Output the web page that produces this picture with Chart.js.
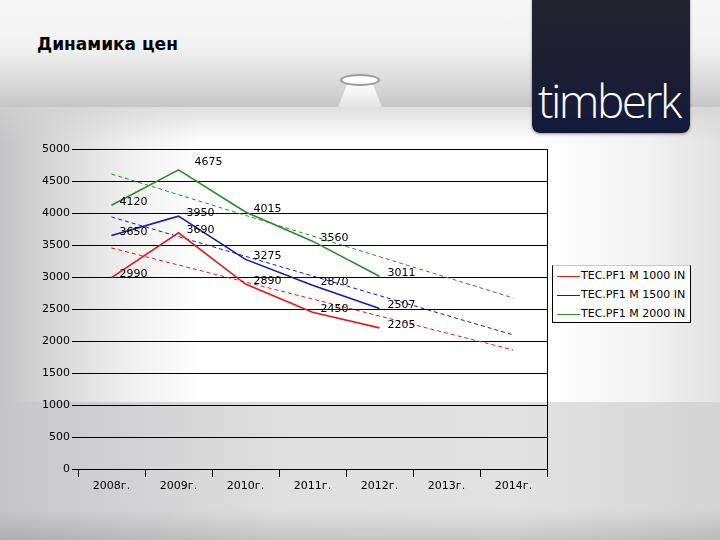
<!DOCTYPE html>
<html lang="ru">
<head>
<meta charset="utf-8">
<title>Динамика цен</title>
<script src="https://cdn.jsdelivr.net/npm/chart.js@4.4.1/dist/chart.umd.min.js"></script>
<style>
  html, body { margin: 0; padding: 0; }
  body {
    width: 720px; height: 540px; position: relative; overflow: hidden;
    background: #d8d8d8; font-family: "DejaVu Sans", sans-serif;
  }
  .bg-top {
    position: absolute; left: 0; top: 0; width: 720px; height: 107px;
    background: linear-gradient(to bottom, #f8f8f8 0%, #f1f1f1 45%, #d6d6d6 82%, #c6c6c6 100%);
  }
  .bg-mid {
    position: absolute; left: 0; top: 107px; width: 720px; height: 295px;
    background:
      linear-gradient(to bottom, rgba(210,210,210,0.7) 0%, rgba(255,255,255,0) 12%),
      linear-gradient(to right, #c4c4c6 0%, #d6d6d6 7%, #f0f0f0 18%, #ffffff 28%, #ffffff 76%, #f2f2f2 90%, #e2e2e2 100%);
  }
  .bg-bot {
    position: absolute; left: 0; top: 402px; width: 720px; height: 138px;
    background:
      linear-gradient(to bottom, rgba(0,0,0,0) 0%, rgba(0,0,0,0) 78%, rgba(0,0,0,0.12) 100%),
      linear-gradient(to right, #c6c6ca 0%, #d2d2d4 18%, #e0e0e0 40%, #e2e2e2 72%, #d4d4d4 100%);
  }
  .lamp {
    position: absolute; left: 340px; top: 74px; width: 40px; height: 12px;
    border-radius: 50%; border: 2px solid #9a9a9a; box-sizing: border-box;
    background: radial-gradient(ellipse at center, #ffffff 55%, #e6e6e6 100%);
  }
  .beam {
    position: absolute; left: 338px; top: 85px; width: 44px; height: 22px;
    background: linear-gradient(to bottom, rgba(255,255,255,0.9), rgba(255,255,255,0.5));
    clip-path: polygon(20% 0, 80% 0, 100% 100%, 0 100%);
  }
  .logo {
    position: absolute; left: 532px; top: -8px; width: 158px; height: 141px;
    border-radius: 8px;
    background: linear-gradient(to bottom, #25252f 0%, #1b1d33 60%, #121a3c 100%);
    box-shadow: 0 1px 3px rgba(0,0,0,0.4);
  }
  .logo span {
    position: absolute; left: 6px; top: 85px;
    color: #fff; font-family: "Open Sans", sans-serif; font-weight: 300;
    font-size: 46px; letter-spacing: -2.5px; line-height: 1;
  }
  .title {
    position: absolute; left: 37px; top: 34px;
    font-family: "DejaVu Sans", sans-serif; font-weight: bold; font-size: 17px; color: #000;
  }
  #priceChart { position: absolute; left: 0; top: 0; }
  .legend {
    position: absolute; left: 552px; top: 265px; width: 137px; height: 56px;
    background: #fff; border: 1px solid #000; border-top-color: #c8c8c8;
    font-size: 11px; color: #000;
  }
  .legend .row { height: 19px; line-height: 19px; white-space: nowrap; }
  .legend .swatch {
    display: inline-block; width: 23px; height: 0; border-top: 1px solid;
    vertical-align: middle; margin: 0 1px 0 4px;
  }
</style>
</head>
<body>
<div class="bg-top"></div>
<div class="bg-mid"></div>
<div class="bg-bot"></div>
<div class="beam"></div>
<div class="lamp"></div>
<div class="logo"><span>timberk</span></div>
<div class="title">Динамика цен</div>
<canvas id="priceChart" width="720" height="540"></canvas>
<div class="legend" id="legend"></div>
<script>
// years on the x axis
const years = ['2008г.', '2009г.', '2010г.', '2011г.', '2012г.', '2013г.', '2014г.'];

// series
const seriesNames = ['TEC.PF1 M 1000 IN', 'TEC.PF1 M 1500 IN', 'TEC.PF1 M 2000 IN'];
const seriesColors = ['rgb(222, 28, 30)', 'rgb(26, 26, 170)', 'rgb(44, 140, 44)'];
const price1000 = [2990, 3690, 2890, 2450, 2205, null, null];
const price1500 = [3650, 3950, 3275, 2870, 2507, null, null];
const price2000 = [4120, 4675, 4015, 3560, 3011, null, null];

// trend lines at 2008 and 2014
const trend1000 = [3453, null, null, null, null, null, 1859];
const trend1500 = [3938, null, null, null, null, null, 2094];
const trend2000 = [4609, null, null, null, null, null, 2672];

// y ticks
const yMin = 0;
const yMax = 5000;
const yStep = 500;

const prices = [price1000, price1500, price2000];
const trends = [trend1000, trend1500, trend2000];

const datasets = [];
prices.forEach((p, i) => {
  datasets.push({
    label: seriesNames[i],
    data: p,
    borderColor: seriesColors[i],
    backgroundColor: seriesColors[i],
    borderWidth: 1.6,
    pointRadius: 0,
    tension: 0,
    order: 1
  });
});
trends.forEach((t, i) => {
  datasets.push({
    label: 'trend ' + seriesNames[i],
    data: t,
    borderColor: seriesColors[i],
    borderWidth: 1,
    borderDash: [4, 3],
    pointRadius: 0,
    spanGaps: true,
    order: 2
  });
});

// value labels next to points + right frame line
const valueLabels = {
  id: 'valueLabels',
  afterDatasetsDraw(chart) {
    const ctx = chart.ctx;
    const area = chart.chartArea;
    ctx.save();
    ctx.strokeStyle = '#000';
    ctx.lineWidth = 1;
    ctx.beginPath();
    ctx.moveTo(Math.round(area.right) + 0.5, area.top);
    ctx.lineTo(Math.round(area.right) + 0.5, area.bottom);
    ctx.stroke();

    ctx.font = '11px "DejaVu Sans"';
    ctx.fillStyle = '#000';
    ctx.textAlign = 'left';
    ctx.textBaseline = 'middle';
    for (let i = 0; i < prices.length; i++) {
      const meta = chart.getDatasetMeta(i);
      meta.data.forEach((pt, j) => {
        const v = prices[i][j];
        if (v == null) return;
        let dx = 8, dy = -3;
        if (i === 2 && j === 1) { dx = 16; dy = -8; } // peak label sits above
        ctx.fillText(String(v), pt.x + dx, pt.y + dy);
      });
    }
    ctx.restore();
  }
};

const config = {
  type: 'line',
  data: { labels: years, datasets: datasets },
  options: {
    responsive: false,
    animation: false,
    layout: { padding: { left: 0, top: 149, right: 173, bottom: 0 } },
    plugins: {
      legend: { display: false },
      tooltip: { enabled: false }
    },
    scales: {
      x: {
        offset: true,
        grid: { offset: true, drawOnChartArea: false, color: '#000', tickLength: 8 },
        border: { display: true, color: '#000' },
        ticks: { color: '#000', font: { family: 'DejaVu Sans', size: 11 }, padding: 3, maxRotation: 0 },
        afterFit(scale) { scale.height = 71; }
      },
      y: {
        min: yMin,
        max: yMax,
        ticks: {
          stepSize: yStep,
          color: '#000',
          font: { family: 'DejaVu Sans', size: 11 },
          padding: 2,
          callback: (value) => String(value)
        },
        grid: { color: '#000', lineWidth: 1, tickLength: 6 },
        border: { display: false },
        afterFit(scale) { scale.width = 78; }
      }
    }
  },
  plugins: [valueLabels]
};

const priceChart = new Chart(document.getElementById('priceChart'), config);

// legend box
const legendEl = document.getElementById('legend');
seriesNames.forEach((name, i) => {
  const row = document.createElement('div');
  row.className = 'row';
  const sw = document.createElement('span');
  sw.className = 'swatch';
  sw.style.borderTopColor = seriesColors[i];
  row.appendChild(sw);
  row.appendChild(document.createTextNode(name));
  legendEl.appendChild(row);
});
</script>
</body>
</html>
